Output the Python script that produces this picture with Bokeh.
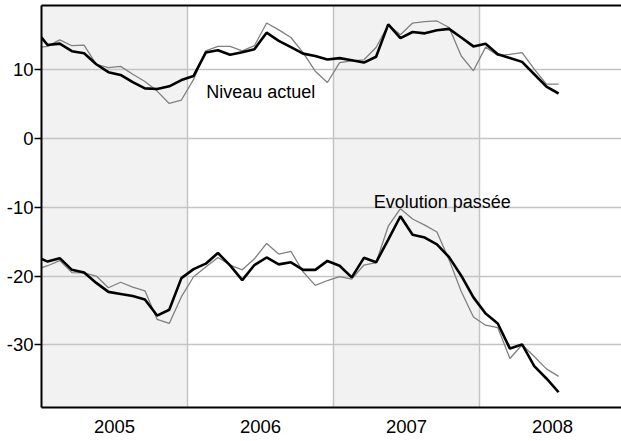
import pandas as pd
from bokeh.plotting import figure
from bokeh.models import Range1d, FixedTicker, LinearAxis, BoxAnnotation, Label
from bokeh.embed import file_html
from bokeh.resources import INLINE

# Monthly observations, Dec 2004 .. Jul 2008
months = pd.period_range("2004-12", "2008-07", freq="M")

niveau_lisse = [15.8,
                13.6, 13.8, 12.7, 12.4, 10.8, 9.65, 9.25, 8.2, 7.3, 7.2, 7.6, 8.5,
                9.1, 12.5, 12.85, 12.2, 12.55, 13.0, 15.4, 14.2, 13.3, 12.35, 12.0, 11.5,
                11.7, 11.4, 11.05, 11.9, 16.6, 14.6, 15.5, 15.3, 15.75, 15.95, 14.7, 13.4,
                13.8, 12.25, 11.7, 11.15, 9.35, 7.55, 6.55]
niveau_brut = [13.2,
               13.4, 14.35, 13.5, 13.6, 10.8, 10.3, 10.5, 9.35, 8.3, 6.9, 5.1, 5.6,
               8.6, 12.75, 13.4, 13.4, 12.75, 13.5, 16.8, 15.8, 14.7, 12.5, 9.8, 8.15,
               11.05, 11.3, 11.45, 13.25, 16.55, 15.1, 16.8, 17.0, 17.1, 16.15, 12.0, 9.85,
               13.3, 12.1, 12.25, 12.5, 10.1, 7.9, 7.9]
evol_lisse = [-17.1,
              -17.9, -17.4, -19.1, -19.5, -21.0, -22.3, -22.6, -22.9, -23.4, -25.75, -24.9, -20.3,
              -19.0, -18.2, -16.65, -18.45, -20.6, -18.4, -17.3, -18.3, -18.0, -19.1, -19.1, -17.8,
              -18.5, -20.2, -17.35, -18.0, -14.7, -11.3, -14.0, -14.4, -15.4, -17.25, -19.95, -23.1,
              -25.45, -26.9, -30.55, -29.95, -33.1, -34.9, -36.9]
evol_brut = [-19.1,
             -18.5, -17.75, -19.5, -19.55, -20.0, -21.7, -20.9, -21.6, -22.15, -26.3, -26.9, -23.0,
             -20.1, -18.7, -17.3, -18.4, -19.1, -17.5, -15.25, -16.8, -16.4, -19.4, -21.35, -20.65,
             -20.1, -20.45, -18.4, -18.05, -12.75, -10.2, -11.7, -12.6, -13.6, -17.65, -22.25, -25.95,
             -27.15, -27.5, -32.0, -30.0, -31.7, -33.5, -34.6]

years = [2005, 2006, 2007, 2008]
year_labels = ["2005", "2006", "2007", "2008"]
shaded_years = [2005, 2007]
y_ticks = [-30, -20, -10, 0, 10]
y_tick_labels = ["-30", "-20", "-10", "0", "10"]

# months since Jan 2005, points at mid-month
x = [(m.year - 2005) * 12 + (m.month - 1) + 0.5 for m in months]
year_start = [(y - 2005) * 12 for y in years]
year_center = [s + 6 for s in year_start]

FONT = "Liberation Sans"

p = figure(width=621, height=441, x_range=Range1d(0, 47.67), y_range=Range1d(-39.12, 19.35),
           output_backend="svg", toolbar_location=None,
           min_border_left=41, min_border_right=0, min_border_top=5, min_border_bottom=34)
p.outline_line_color = None
p.background_fill_color = "white"

for y in shaded_years:
    s = (y - 2005) * 12
    p.add_layout(BoxAnnotation(left=s, right=s + 12, fill_color="#f2f2f2", fill_alpha=1.0,
                               line_color=None, level="image"))

p.xgrid.ticker = FixedTicker(ticks=year_start[1:])
p.ygrid.ticker = FixedTicker(ticks=y_ticks)
for g in (p.xgrid, p.ygrid):
    g.grid_line_color = "#c4c4c4"
    g.grid_line_width = 1.5

p.line(x, niveau_brut, color="#808080", line_width=1.3)
p.line(x, evol_brut, color="#808080", line_width=1.3)
p.line(x, niveau_lisse, color="black", line_width=2.6)
p.line(x, evol_lisse, color="black", line_width=2.6)

xa = p.xaxis[0]
xa.ticker = FixedTicker(ticks=year_center)
xa.major_label_overrides = {c: l for c, l in zip(year_center, year_labels)}
xa.major_tick_out = 0
xa.major_tick_in = 0
xa.minor_tick_out = 0
xa.minor_tick_in = 0
xa.axis_line_width = 2
xa.axis_line_color = "black"
xa.major_label_standoff = 12
xa.major_label_text_font = FONT
xa.major_label_text_font_size = "18.5px"
xa.major_label_text_color = "black"

ya = p.yaxis[0]
ya.ticker = FixedTicker(ticks=y_ticks)
ya.major_label_overrides = {t: l for t, l in zip(y_ticks, y_tick_labels)}
ya.major_tick_out = 7
ya.major_tick_in = 0
ya.minor_tick_out = 0
ya.minor_tick_in = 0
ya.major_tick_line_width = 1.5
ya.axis_line_width = 2
ya.axis_line_color = "black"
ya.major_label_standoff = 1
ya.major_label_text_font = FONT
ya.major_label_text_font_size = "18.5px"
ya.major_label_text_color = "black"

top = LinearAxis(ticker=FixedTicker(ticks=[]), major_tick_out=0, major_tick_in=0,
                 minor_tick_out=0, minor_tick_in=0, major_label_standoff=0,
                 major_label_text_font_size="1px", axis_line_width=2, axis_line_color="black")
p.add_layout(top, "above")

p.add_layout(Label(x=13.54, y=6.74, text="Niveau actuel", text_font=FONT, text_font_size="18px",
                   text_color="black", text_baseline="alphabetic", text_align="left"))
p.add_layout(Label(x=27.31, y=-9.26, text="Evolution passée", text_font=FONT, text_font_size="18px",
                   text_color="black", text_baseline="alphabetic", text_align="left"))

open("out.html", "w").write(file_html(p, INLINE))
